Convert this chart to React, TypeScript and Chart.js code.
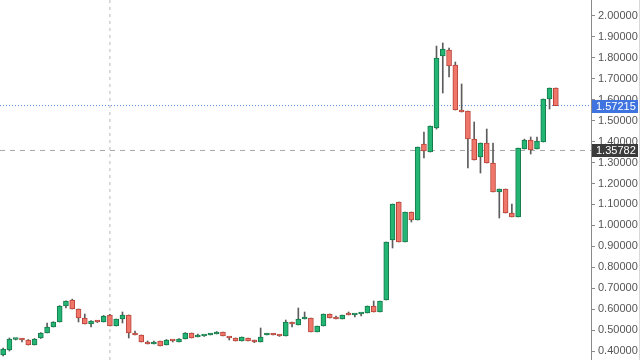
import React, { useEffect, useRef } from 'react';
import { Chart, registerables } from 'chart.js';
Chart.register(...registerables);

const opens = [0.3811,0.4049,0.4550,0.4575,0.4527,0.4289,0.4623,0.4861,0.5148,0.5387,0.6151,0.6437,0.6008,0.5578,0.5291,0.5434,0.5387,0.5721,0.5196,0.5530,0.5721,0.4861,0.4766,0.4384,0.4337,0.4480,0.4289,0.4527,0.4432,0.4575,0.4861,0.4671,0.4718,0.4766,0.4814,0.4909,0.4671,0.4623,0.4480,0.4623,0.4527,0.4432,0.4766,0.4814,0.4766,0.4718,0.5387,0.5244,0.5530,0.5578,0.4909,0.5196,0.5769,0.5578,0.5530,0.5769,0.5721,0.5769,0.5817,0.6151,0.5864,0.6437,0.9303,1.1117,0.9207,1.0640,1.0258,1.3888,1.3505,1.4651,1.8090,1.8376,1.7660,1.5511,1.5463,1.4126,1.3266,1.3935,1.2980,1.1595,1.1738,1.0592,1.0401,1.3649,1.4078,1.3649,1.3983,1.6036,1.6562];
const closes = [0.4097,0.4575,0.4575,0.4527,0.4289,0.4575,0.4861,0.5148,0.5387,0.6151,0.6390,0.6008,0.5578,0.5291,0.5434,0.5387,0.5673,0.5196,0.5530,0.5721,0.4861,0.4766,0.4432,0.4337,0.4432,0.4241,0.4527,0.4480,0.4575,0.4861,0.4623,0.4718,0.4730,0.4814,0.4909,0.4718,0.4623,0.4480,0.4671,0.4480,0.4432,0.4671,0.4814,0.4766,0.4718,0.5387,0.5291,0.5530,0.5625,0.4909,0.5196,0.5769,0.5578,0.5530,0.5721,0.5721,0.5769,0.5817,0.6151,0.5864,0.6390,0.9207,1.1022,0.9207,1.0640,1.0258,1.3744,1.3553,1.4747,1.7994,1.8424,1.7612,1.5511,1.5415,1.4126,1.3123,1.3935,1.2980,1.1595,1.1738,1.0592,1.0401,1.3696,1.4078,1.3601,1.4031,1.6036,1.6562,1.57215];
const highs = [0.4140,0.4623,0.4600,0.4600,0.4550,0.4600,0.4880,0.5339,0.5400,0.6170,0.6400,0.6480,0.6008,0.5769,0.5460,0.5460,0.5700,0.5750,0.5530,0.5864,0.5721,0.4957,0.4766,0.4480,0.4480,0.4480,0.4550,0.4527,0.4600,0.4880,0.4861,0.4814,0.4740,0.4830,0.4930,0.4909,0.4671,0.4623,0.4671,0.4623,0.4527,0.5100,0.4830,0.4840,0.4766,0.5482,0.5387,0.6056,0.5864,0.5578,0.5196,0.5769,0.5769,0.5673,0.5721,0.5864,0.5769,0.5817,0.6151,0.6390,0.6390,0.9207,1.1022,1.1117,1.0640,1.0640,1.3744,1.4460,1.4747,1.8567,1.8711,1.8472,1.7803,1.6753,1.5463,1.4938,1.3935,1.4604,1.3935,1.1738,1.1738,1.1022,1.3696,1.4120,1.4222,1.4222,1.6036,1.6562,1.6562];
const lows = [0.3770,0.4002,0.4527,0.4432,0.4289,0.4289,0.4600,0.4861,0.5148,0.5387,0.6056,0.6008,0.5387,0.5291,0.5148,0.5360,0.5387,0.5196,0.5196,0.5339,0.4623,0.4766,0.4432,0.4337,0.4337,0.4241,0.4289,0.4432,0.4432,0.4575,0.4623,0.4671,0.4700,0.4766,0.4814,0.4718,0.4527,0.4480,0.4480,0.4480,0.4400,0.4432,0.4766,0.4766,0.4700,0.4718,0.5148,0.5244,0.5530,0.4909,0.4909,0.5196,0.5578,0.5530,0.5530,0.5721,0.5625,0.5673,0.5817,0.5864,0.5864,0.6437,0.8921,0.9207,0.9207,1.0162,1.0258,1.3219,1.3505,1.4600,1.6323,1.7087,1.5511,1.5415,1.2741,1.3123,1.2502,1.2980,1.1595,1.0353,1.0592,1.0401,1.0401,1.3649,1.3410,1.3649,1.3983,1.5559,1.57215];

const lastPrice = 1.57215;
const refPrice = 1.35782;
const markerIndex = 17;
const yMin = 0.3572;
const yMax = 2.0764;
const xMin = -0.5;
const xMax = 93.6;

const UP_FILL = '#23b574';
const UP_BORDER = '#167a4a';
const DN_FILL = '#f0766a';
const DN_BORDER = '#b9453b';

const badgePlugin = {
  id: 'badges',
  afterDraw(chart: any) {
    const { ctx, scales } = chart;
    const y = scales.y;
    const drawBadge = (val: number, bg: string) => {
      const py = y.getPixelForValue(val);
      ctx.save();
      ctx.fillStyle = bg;
      ctx.fillRect(y.left + 1, Math.round(py) - 6, 46, 13);
      ctx.fillStyle = '#ffffff';
      ctx.font = '11px "Liberation Sans", Arial, sans-serif';
      ctx.textBaseline = 'middle';
      ctx.textAlign = 'left';
      ctx.fillText(val.toFixed(5), y.left + 5, Math.round(py) + 1);
      ctx.restore();
    };
    drawBadge(lastPrice, '#3f74e0');
    drawBadge(refPrice, '#3b3b3b');
    ctx.save();
    ctx.strokeStyle = '#d8d8d8';
    ctx.beginPath();
    ctx.moveTo(639.5, 0);
    ctx.lineTo(639.5, 360);
    ctx.stroke();
    ctx.restore();
  },
};

export default function App() {
  const ref = useRef<HTMLCanvasElement | null>(null);
  useEffect(() => {
    if (!ref.current) return;
    const bodies = closes.map((c, i) => ({ x: i, y: [opens[i], c] }));
    const wicks = closes.map((_, i) => ({ x: i, y: [lows[i], highs[i]] }));
    const up = closes.map((c, i) => c >= opens[i]);
    const chart = new Chart(ref.current, {
      type: 'bar',
      data: {
        datasets: [
          {
            type: 'bar',
            data: bodies as any,
            backgroundColor: up.map((u) => (u ? UP_FILL : DN_FILL)),
            borderColor: up.map((u) => (u ? UP_BORDER : DN_BORDER)),
            borderWidth: 1,
            borderSkipped: false,
            barThickness: 5,
            minBarLength: 2,
            grouped: false,
            order: 0,
          } as any,
          {
            type: 'bar',
            data: wicks as any,
            backgroundColor: '#5c5c5c',
            borderWidth: 0,
            barThickness: 1,
            grouped: false,
            order: 1,
          } as any,
          {
            type: 'line',
            data: [{ x: xMin, y: lastPrice }, { x: xMax, y: lastPrice }],
            borderColor: '#5b8be0',
            borderWidth: 1,
            borderDash: [1, 2],
            pointRadius: 0,
            order: 3,
          } as any,
          {
            type: 'line',
            data: [{ x: xMin, y: refPrice }, { x: xMax, y: refPrice }],
            borderColor: '#a8a8a8',
            borderWidth: 1,
            borderDash: [5, 5],
            pointRadius: 0,
            order: 3,
          } as any,
          {
            type: 'line',
            data: [{ x: markerIndex, y: yMin }, { x: markerIndex, y: yMax }],
            borderColor: '#b8b8b8',
            borderWidth: 1,
            borderDash: [3, 4],
            pointRadius: 0,
            order: 3,
          } as any,
        ],
      },
      options: {
        animation: false,
        responsive: false,
        events: [],
        layout: { padding: 0, autoPadding: false },
        plugins: { legend: { display: false }, tooltip: { enabled: false } },
        scales: {
          x: { type: 'linear', min: xMin, max: xMax, display: false, offset: false, grid: { offset: false } },
          y: {
            position: 'right',
            min: yMin,
            max: yMax,
            ticks: {
              stepSize: 0.1,
              includeBounds: false,
              color: '#555555',
              padding: 3,
              font: { family: '"Liberation Sans", Arial, sans-serif', size: 11 },
              callback: (v: any) => {
                const n = Number(v);
                const r = Math.round(n * 10) / 10;
                if (Math.abs(n - r) > 1e-6) return '';
                return r.toFixed(5);
              },
            },
            grid: { drawOnChartArea: false, drawTicks: true, tickLength: 4, color: '#8a8a8a' },
            border: { display: true, color: '#8a8a8a' },
            afterFit: (s: any) => {
              s.width = 49;
              s.paddingTop = 0;
              s.paddingBottom = 0;
            },
          } as any,
        },
      },
      plugins: [badgePlugin],
    });
    return () => chart.destroy();
  }, []);
  return (
    <div style={{ position: 'fixed', left: 0, top: 0, width: 640, height: 360, background: '#fff' }}>
      <canvas ref={ref} width={640} height={360} />
    </div>
  );
}
